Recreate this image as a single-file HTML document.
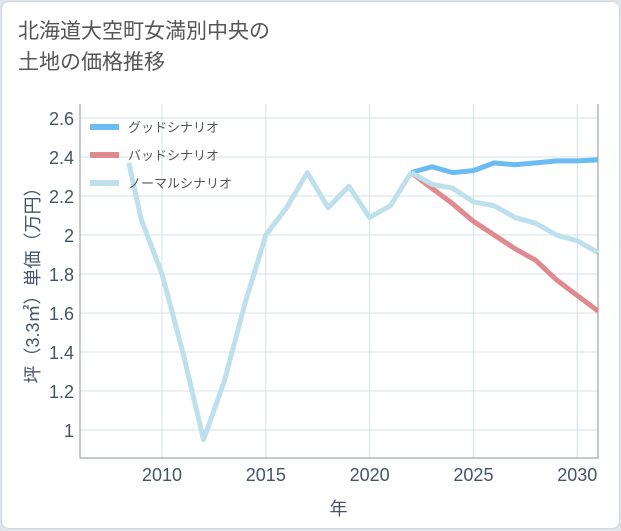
<!DOCTYPE html>
<html><head><meta charset="utf-8"><style>
body{margin:0;background:#dfe5ea;font-family:"Liberation Sans","Noto Sans CJK JP",sans-serif;}
#card{position:absolute;left:1px;top:1px;width:617px;height:526px;background:#fff;border:1px solid #cfd6dc;border-radius:8px;}
#title{position:absolute;left:16px;top:14px;font-size:21px;line-height:31px;color:#555;}
</style></head><body>
<div id="card">
<div id="title">北海道大空町女満別中央の<br>土地の価格推移</div>
<svg id="chart" width="621" height="530" style="position:absolute;left:-1px;top:-1px"></svg>
</div>
<script>
const years=[2008.4,2009,2010,2011,2012,2013,2014,2015,2016,2017,2018,2019,2020,2021,2022];
const normalHist=[2.37,2.08,1.8,1.4,0.95,1.25,1.65,2.0,2.14,2.32,2.14,2.25,2.09,2.15,2.32];
const futYears=[2022,2023,2024,2025,2026,2027,2028,2029,2030,2031];
const good=[2.32,2.35,2.32,2.33,2.37,2.36,2.37,2.38,2.38,2.385];
const bad=[2.32,2.24,2.16,2.07,2.0,1.93,1.87,1.77,1.69,1.61];
const normalFut=[2.32,2.26,2.24,2.17,2.15,2.09,2.06,2.0,1.97,1.91];
const yTicks=[1,1.2,1.4,1.6,1.8,2,2.2,2.4,2.6];
const xTicks=[2010,2015,2020,2025,2030];
const L=79,R=597,T=103,B=457,X0=2006.05,X1=2031;
const x=v=>L+(v-X0)/(X1-X0)*(R-L);
const y=v=>429-(v-1)*195;
const svg=document.getElementById('chart');const NS='http://www.w3.org/2000/svg';
function mk(t,a){const e=document.createElementNS(NS,t);for(const k in a)e.setAttribute(k,a[k]);svg.appendChild(e);return e;}
yTicks.forEach(v=>{const g=mk('line',{x1:L,x2:R,y1:y(v),y2:y(v),stroke:'#d5e0e8','stroke-width':1});

const t=mk('text',{x:73,y:y(v)+7,'text-anchor':'end','font-size':18,fill:'#44546a'});t.textContent=v;
});
xTicks.forEach(v=>{const g=mk('line',{x1:x(v),x2:x(v),y1:T,y2:B,stroke:'#d5e0e8','stroke-width':1});

const t=mk('text',{x:x(v),y:480,'text-anchor':'middle','font-size':18,fill:'#44546a'});t.textContent=v;
});
const ax=mk('path',{d:`M${L} ${T}V${B}H${R}V${T}`,fill:'none',stroke:'#8a96a0','stroke-width':1});

function line(xs,vs,c,n){const p=mk('polyline',{points:xs.map((a,i)=>x(a)+','+y(vs[i])).join(' '),fill:'none',stroke:c,'stroke-width':5,'stroke-linejoin':'round'});
}
line(futYears,good,'#6cbcf2','good-scenario-line');
line(futYears,bad,'#e08a90','bad-scenario-line');
line(years,normalHist,'#bde0ec','normal-history-line');
line(futYears,normalFut,'#bde0ec','normal-scenario-line');
[['グッドシナリオ','#6cbcf2'],['バッドシナリオ','#e08a90'],['ノーマルシナリオ','#bde0ec']].forEach((e,i)=>{
const yy=126+i*28;const l=mk('line',{x1:89,x2:118,y1:yy,y2:yy,stroke:e[1],'stroke-width':6});

const t=mk('text',{x:127,y:yy+5,'font-size':13,fill:'#555'});t.textContent=e[0];
});
const yt=mk('text',{x:0,y:0,'font-size':18,fill:'#44546a','text-anchor':'middle',transform:'translate(38,280) rotate(-90)'});
yt.textContent='坪（3.3㎡）単価（万円）';
const xt=mk('text',{x:x(2018.5),y:514,'font-size':18,fill:'#44546a','text-anchor':'middle'});
xt.textContent='年';
</script>
</body></html>
